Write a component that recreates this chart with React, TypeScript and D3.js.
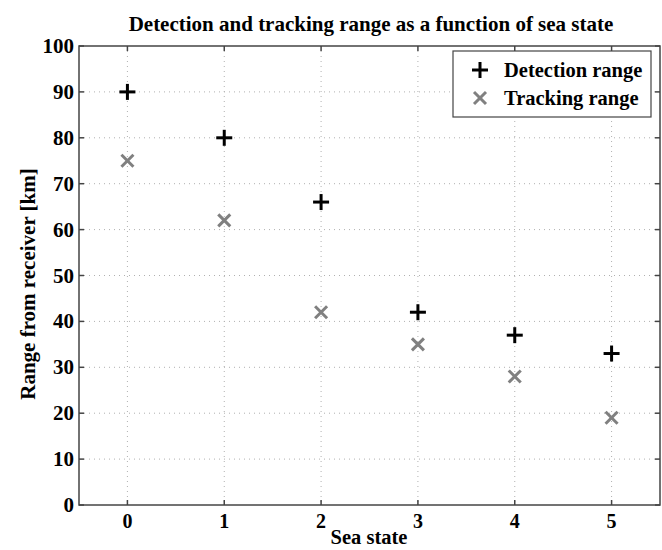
import React from 'react';
import * as d3 from 'd3';

const seaStates = [0, 1, 2, 3, 4, 5];
const detectionRange = [90, 80, 66, 42, 37, 33];
const trackingRange = [75, 62, 42, 35, 28, 19];
const yTicks = [0, 10, 20, 30, 40, 50, 60, 70, 80, 90, 100];

const W = 662;
const H = 550;
const margin = { top: 46, right: 2, bottom: 45, left: 79 };
const FONT = '"Liberation Serif", "Times New Roman", serif';

const App: React.FC = () => {
    const x = d3.scaleLinear().domain([-0.5, 5.5]).range([margin.left, W - margin.right]);
    const y = d3.scaleLinear().domain([0, 100]).range([H - margin.bottom, margin.top]);

    const x0 = x.range()[0];
    const x1 = x.range()[1];
    const y0 = y.range()[0];
    const y1 = y.range()[1];
    const tick = 5;
    const axisColor = '#444';

    const plus = (cx: number, cy: number, key: string, s = 8) => (
        <g key={key} stroke="#000" strokeWidth={3}>
            <line x1={cx - s} x2={cx + s} y1={cy} y2={cy} />
            <line x1={cx} x2={cx} y1={cy - s} y2={cy + s} />
        </g>
    );
    const cross = (cx: number, cy: number, key: string, s = 6) => (
        <g key={key} stroke="#808080" strokeWidth={3}>
            <line x1={cx - s} x2={cx + s} y1={cy - s} y2={cy + s} />
            <line x1={cx - s} x2={cx + s} y1={cy + s} y2={cy - s} />
        </g>
    );

    return (
        <svg width={W} height={H} style={{ position: 'absolute', left: 0, top: 0, background: '#fff' }}
            fontFamily={FONT} fontWeight="bold">
            <rect width={W} height={H} fill="#fff" />
            {/* grid */}
            {seaStates.map(s => (
                <line key={'gx' + s} x1={x(s)} x2={x(s)} y1={y1} y2={y0}
                    stroke="#b0b0b0" strokeWidth={1} strokeDasharray="1,4" />
            ))}
            {yTicks.slice(1, -1).map(t => (
                <line key={'gy' + t} x1={x0} x2={x1} y1={y(t)} y2={y(t)}
                    stroke="#b0b0b0" strokeWidth={1} strokeDasharray="1,4" />
            ))}
            {/* axes box */}
            <rect x={x0} y={y1} width={x1 - x0} height={y0 - y1} fill="none" stroke={axisColor} strokeWidth={1.5} />
            {/* ticks */}
            {seaStates.map(s => (
                <g key={'tx' + s} stroke={axisColor} strokeWidth={1.5}>
                    <line x1={x(s)} x2={x(s)} y1={y0} y2={y0 - tick} />
                    <line x1={x(s)} x2={x(s)} y1={y1} y2={y1 + tick} />
                </g>
            ))}
            {yTicks.map(t => (
                <g key={'ty' + t} stroke={axisColor} strokeWidth={1.5}>
                    <line x1={x0} x2={x0 + tick} y1={y(t)} y2={y(t)} />
                    <line x1={x1} x2={x1 - tick} y1={y(t)} y2={y(t)} />
                </g>
            ))}
            {/* tick labels */}
            {seaStates.map(s => (
                <text key={'lx' + s} x={x(s)} y={y0 + 23} textAnchor="middle" fontSize={20}>{s}</text>
            ))}
            {yTicks.map(t => (
                <text key={'ly' + t} x={x0 - 5} y={y(t) + 7} textAnchor="end" fontSize={21}>{t}</text>
            ))}
            {/* axis labels */}
            <text x={369} y={544} textAnchor="middle" fontSize={20.5}>Sea state</text>
            <text transform={`translate(35,284) rotate(-90)`} textAnchor="middle" fontSize={21}>
                Range from receiver [km]
            </text>
            <text x={371} y={31} textAnchor="middle" fontSize={21}>
                Detection and tracking range as a function of sea state
            </text>
            {/* data */}
            {seaStates.map((s, i) => plus(x(s), y(detectionRange[i]), 'd' + i))}
            {seaStates.map((s, i) => cross(x(s), y(trackingRange[i]), 't' + i))}
            {/* legend */}
            <rect x={453} y={51} width={198} height={66} fill="#fff" stroke={axisColor} strokeWidth={1.2} />
            {plus(480, 70, 'lp')}
            {cross(480, 98, 'lc')}
            <text x={504} y={77} fontSize={20.5}>Detection range</text>
            <text x={504} y={105} fontSize={20.5}>Tracking range</text>
        </svg>
    );
};

export default App;
